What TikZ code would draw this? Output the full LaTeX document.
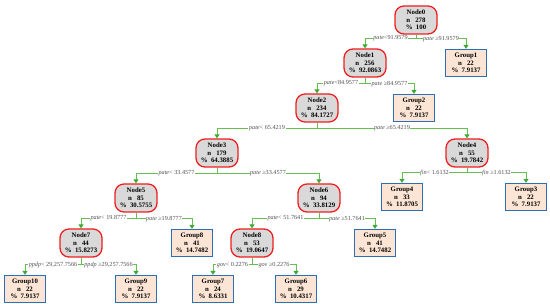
\documentclass[tikz,border=0pt]{standalone}
\usepackage{fontspec}
\setmainfont{Liberation Serif}
\usetikzlibrary{arrows.meta}
\definecolor{edgegreen}{RGB}{100,192,80}
\definecolor{tipgreen}{RGB}{60,170,50}
\definecolor{nodered}{RGB}{240,30,30}
\definecolor{nodegray}{RGB}{217,217,217}
\definecolor{leafblue}{RGB}{46,110,180}
\definecolor{leafpeach}{RGB}{252,229,212}
\definecolor{lblgray}{RGB}{80,80,80}
\tikzset{
  inner/.style={draw=nodered, line width=1.3pt, fill=nodegray, rounded corners=9pt,
    minimum width=42pt, minimum height=28pt, inner sep=0pt, align=center,
    font=\fontsize{6.8}{7.6}\selectfont\bfseries},
  leaf/.style={draw=leafblue, line width=1.3pt, fill=leafpeach,
    minimum width=41pt, minimum height=27pt, inner sep=0pt, align=center,
    font=\fontsize{6.8}{7.6}\selectfont\bfseries},
  edge/.style={draw=edgegreen, line width=1pt, -{Triangle[length=4pt,width=5pt,color=tipgreen]}},
  lbl/.style={fill=white, inner sep=0.6pt, text=lblgray, font=\fontsize{6.2}{7}\selectfont}
}
\newcommand{\ntext}[3]{#1\\n\ \ \ #2\\\%\ \ #3}
\newcommand{\branch}[3]{%
  \draw[edge] (#1.south) |- node[lbl,pos=0.75]{#3} ([yshift=10pt]#2.north) -- (#2.north);}
\begin{document}
\begin{tikzpicture}[x=1pt,y=-1pt]
\useasboundingbox (0,0) rectangle (550,304);
% nodes
\node[inner] (n0) at (416,20) {\ntext{Node0}{278}{100}};
\node[inner] (n1) at (365,63) {\ntext{Node1}{256}{92.0863}};
\node[leaf]  (g1) at (466,63) {\ntext{Group1}{22}{7.9137}};
\node[inner] (n2) at (317,108) {\ntext{Node2}{234}{84.1727}};
\node[leaf]  (g2) at (414,108) {\ntext{Group2}{22}{7.9137}};
\node[inner] (n3) at (217,153) {\ntext{Node3}{179}{64.3885}};
\node[inner] (n4) at (467,153) {\ntext{Node4}{55}{19.7842}};
\node[inner] (n5) at (136,198) {\ntext{Node5}{85}{30.5755}};
\node[inner] (n6) at (319,198) {\ntext{Node6}{94}{33.8129}};
\node[leaf]  (g4) at (402,197) {\ntext{Group4}{33}{11.8705}};
\node[leaf]  (g3) at (526,197) {\ntext{Group3}{22}{7.9137}};
\node[inner] (n7) at (81,243) {\ntext{Node7}{44}{15.8273}};
\node[leaf]  (g8) at (192,243) {\ntext{Group8}{41}{14.7482}};
\node[inner] (n8) at (252,243) {\ntext{Node8}{53}{19.0647}};
\node[leaf]  (g5) at (375,243) {\ntext{Group5}{41}{14.7482}};
\node[leaf]  (g10) at (25,289) {\ntext{Group10}{22}{7.9137}};
\node[leaf]  (g9) at (136,289) {\ntext{Group9}{22}{7.9137}};
\node[leaf]  (g7) at (213,289) {\ntext{Group7}{24}{8.6331}};
\node[leaf]  (g6) at (296,289) {\ntext{Group6}{29}{10.4317}};
% edges
\branch{n0}{n1}{\textit{pate}<91.9579}
\branch{n0}{g1}{\textit{pate} ≥91.9579}
\branch{n1}{n2}{\textit{pate}<84.9577}
\branch{n1}{g2}{\textit{pate} ≥84.9577}
\branch{n2}{n3}{\textit{pate}< 65.4219}
\branch{n2}{n4}{\textit{pate} ≥65.4219}
\branch{n3}{n5}{\textit{pate}< 33.4577}
\branch{n3}{n6}{\textit{pate} ≥33.4577}
\branch{n4}{g4}{\textit{fin}< 1.6132}
\branch{n4}{g3}{\textit{fin} ≥1.6132}
\branch{n5}{n7}{\textit{pate}< 19.8777}
\branch{n5}{g8}{\textit{pate} ≥19.8777}
\branch{n6}{n8}{\textit{pate}< 51.7641}
\branch{n6}{g5}{\textit{pate} ≥51.7641}
\branch{n7}{g10}{\textit{ppdp}< 29,257.7566}
\branch{n7}{g9}{\textit{ppdp} ≥29,257.7566}
\branch{n8}{g7}{\textit{gov}< 0.2276}
\branch{n8}{g6}{\textit{gov} ≥0.2276}
\end{tikzpicture}
\end{document}
